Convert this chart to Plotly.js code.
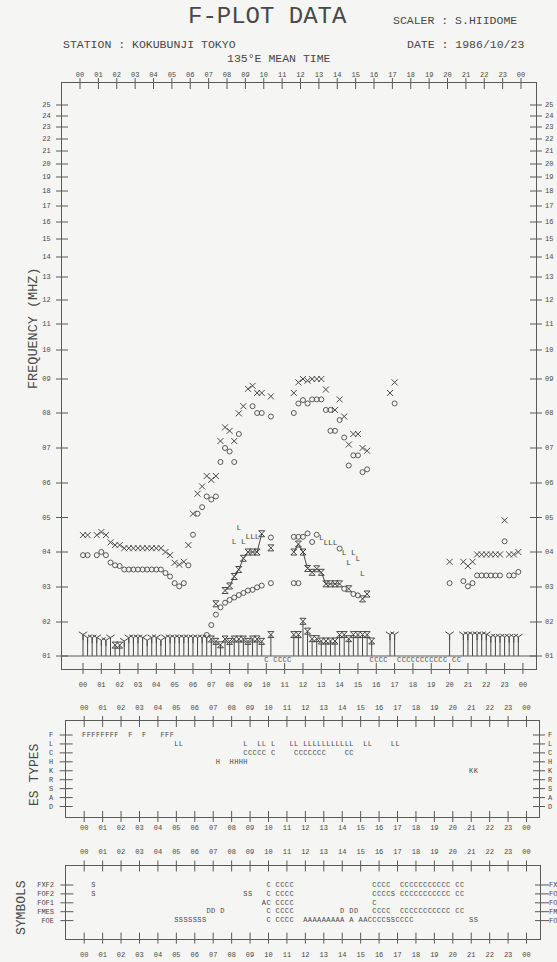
<!DOCTYPE html>
<html><head><meta charset="utf-8">
<script src="https://cdn.plot.ly/plotly-3.0.1.min.js"></script>
<style>html,body{margin:0;padding:0;background:#f5f5f3}</style>
</head><body><div id="chart" style="width:557px;height:962px"></div>
<script>
// ================= DATA =================
const hourLabels = ['00','01','02','03','04','05','06','07','08','09','10','11','12','13','14','15','16','17','18','19','20','21','22','23','00'];
const freqTicks = [1,2,3,4,5,6,7,8,9,10,11,12,13,14,15,16,17,18,19,20,21,22,23,24,25];
const freqTickLabels = ['01','02','03','04','05','06','07','08','09','10','11','12','13','14','15','16','17','18','19','20','21','22','23','24','25'];

// fxF2 (crosses)
const fxF2Time = [0,0.25,0.75,1,1.25,1.5,1.75,2,2.25,2.5,2.75,3,3.25,3.5,3.75,4,4.25,4.5,4.75,5,5.25,5.5,5.75,6,6.25,6.5,6.75,7,7.25,7.5,7.75,8,8.25,8.5,8.75,9,9.25,9.5,9.75,10.25,11.5,11.75,12,12.25,12.5,12.75,13,13.25,13.75,14,14.25,14.5,14.75,15,15.25,15.5,16.75,17,20,20.75,21,21.25,21.5,21.75,22,22.25,22.5,22.75,23,23.25,23.5,23.75];
const fxF2Freq = [4.49,4.49,4.49,4.58,4.49,4.28,4.2,4.2,4.11,4.11,4.11,4.11,4.11,4.11,4.11,4.11,4.11,4.0,3.91,3.69,3.64,3.72,4.2,5.11,5.69,5.9,6.2,6.09,6.2,7.2,7.59,7.49,7.2,7.99,8.2,8.71,8.8,8.59,8.59,8.49,8.59,8.9,9.0,8.95,9.0,9.0,9.0,8.69,8.09,8.4,7.9,7.1,7.4,7.4,7.0,6.92,8.59,8.9,3.72,3.72,3.6,3.72,3.93,3.93,3.93,3.93,3.93,3.93,4.92,3.93,3.93,4.0];

// foF2 (circles)
const foF2Time = [0,0.25,0.75,1,1.25,1.5,1.75,2,2.25,2.5,2.75,3,3.25,3.5,3.75,4,4.25,4.5,4.75,5,5.25,5.5,5.75,6,6.25,6.5,6.75,7,7.25,7.5,7.75,8,8.25,8.5,9.25,9.5,9.75,10.25,11.5,11.75,12,12.25,12.5,12.75,13,13.25,13.5,13.5,13.75,14,14.25,14.5,14.75,15,15.25,15.5,17,20,20.75,21,21.25,21.5,21.75,22,22.25,22.5,22.75,23,23.25,23.5,23.75];
const foF2Freq = [3.91,3.91,3.91,4.0,3.91,3.7,3.62,3.6,3.5,3.5,3.5,3.5,3.5,3.5,3.5,3.5,3.5,3.4,3.3,3.11,3.02,3.11,3.62,4.5,5.11,5.3,5.61,5.52,5.61,6.6,7.0,6.9,6.6,7.4,8.2,8.0,8.0,7.9,8.0,8.28,8.38,8.28,8.4,8.4,8.4,8.09,8.09,7.49,7.49,7.8,7.3,6.5,6.79,6.79,6.31,6.39,8.28,3.11,3.17,3.02,3.11,3.33,3.33,3.33,3.33,3.33,3.33,4.31,3.33,3.33,3.43];

// middle circles (~4.4 MHz)
const foF1Time = [10.25,11.5,11.75,12,12.25,12.5,12.75,14];
const foF1Freq = [4.42,4.44,4.44,4.44,4.54,4.29,4.5,4.1];

// lower circles
const foETime = [6.75,7,7.25,7.5,7.75,8,8.25,8.5,8.75,9,9.25,9.5,9.75,10.25,11.5,11.75,14.25,14.75,15];
const foEFreq = [1.62,1.91,2.21,2.42,2.55,2.63,2.7,2.77,2.83,2.9,2.92,2.99,3.04,3.11,3.11,3.11,2.95,2.8,2.76];

// hourglass connected line (null = break)
const lineTime = [7.25,7.5,7.75,8,8.25,8.5,8.75,9,9.25,9.5,9.75,10,10.25,10.5,11.5,11.75,12,12.25,12.5,12.75,13,13.25,13.5,13.75,14,14.25,14.5,14.75,15.25,15.5];
const lineFreq = [2.52,null,2.9,3.03,3.3,3.5,3.82,4.0,4.0,4.0,4.53,null,4.12,null,4.0,4.23,4.0,3.53,3.42,3.52,3.42,3.09,3.09,3.09,3.09,null,2.95,null,2.66,2.8];

// "L" marks
const lTime = [8.25,8.5,8.75,9,9.25,9.5,13,13.25,13.5,13.75,14.25,14.5,14.75,15,15.25];
const lFreq = [4.29,4.71,4.29,4.44,4.44,4.44,4.4,4.27,4.27,4.27,3.96,3.69,3.96,3.79,3.38];

// stems with Y tops
const yStemTime = [0,0.25,0.5,0.75,1,1.25,1.5,2.25,2.5,2.75,3,3.25,3.5,3.75,4,4.25,4.5,4.75,5,5.25,5.5,5.75,6,6.25,6.5,6.75,16.75,17,20,20.75,21,21.25,21.5,21.75,22,22.25,22.5,22.75,23,23.25,23.5,23.75];
const yStemFreq = [1.63,1.54,1.54,1.54,1.46,1.46,1.54,1.44,1.54,1.54,1.54,1.54,1.46,1.54,1.54,1.46,1.54,1.54,1.54,1.54,1.54,1.54,1.54,1.54,1.54,1.54,1.63,1.63,1.63,1.63,1.63,1.63,1.63,1.63,1.63,1.56,1.56,1.56,1.56,1.56,1.56,1.56];
// stems with hourglass tops
const hStemTime = [1.75,2,7,7.25,7.5,7.75,8,8.25,8.5,8.75,9,9.25,9.5,9.75,10.25,11.5,11.75,12,12.25,12.5,12.75,13,13.25,13.5,13.75,14,14.25,14.5,14.75,15,15.25,15.5,15.75];
const hStemFreq = [1.32,1.32,1.5,1.43,1.33,1.5,1.43,1.5,1.5,1.5,1.43,1.5,1.5,1.43,1.63,1.63,1.63,2.02,1.73,1.51,1.51,1.44,1.44,1.44,1.44,1.63,1.63,1.51,1.63,1.63,1.63,1.63,1.44];

// "C" letters under the 1 MHz line
const cBaseTime = [10,10.5,10.75,11,11.25,15.75,16,16.25,16.5,17.25,17.5,17.75,18,18.25,18.5,18.75,19,19.25,19.5,19.75,20.25,20.5];

// ES types panel: [start time, consecutive letters at 15-min steps]
const esRows = ['F','L','C','H','K','R','S','A','D'];
const esF = [[0,'FFFFFFFF'],[2.5,'F'],[3.25,'F'],[4.25,'FFF']];
const esL = [[5,'LL'],[8.75,'L'],[9.5,'LL'],[10.25,'L'],[11.25,'LL'],[12,'LLLLLLLLLLL'],[15.25,'LL'],[16.75,'LL']];
const esC = [[8.75,'CCCCC'],[10.25,'C'],[11.5,'CCCCCCC'],[14.25,'CC']];
const esH = [[7.25,'H'],[8,'HHHH']];
const esK = [[21,'KK']];

// Symbols panel
const symRows = ['FXF2','FOF2','FOF1','FMES','FOE'];
const symFxF2 = [[0.5,'S'],[10,'C'],[10.5,'CCCC'],[15.75,'CCCC'],[17.25,'CCCCCCCCCCC'],[20.25,'CC']];
const symFoF2 = [[0.5,'S'],[8.75,'SS'],[10,'C'],[10.5,'CCCC'],[15.75,'CCCCS'],[17.25,'CCCCCCCCCCC'],[20.25,'CC']];
const symFoF1 = [[9.75,'AC'],[10.5,'CCCC'],[15.75,'C']];
const symFmEs = [[6.75,'DD'],[7.5,'D'],[10,'C'],[10.5,'CCCC'],[14,'D'],[14.5,'DD'],[15.75,'CCCC'],[17.25,'CCCCCCCCCCC'],[20.25,'CC']];
const symFoE  = [[5,'SSSSSSS'],[10,'C'],[10.5,'CCCC'],[12,'AAAAAAAAA'],[14.5,'A'],[15,'AACCCCSSCCCC'],[21,'SS']];

// ================= SCALE / LAYOUT HELPERS =================
const W = 557, H = 962;
const px = v => v / W;
const py = v => 1 - v / H;
// frequency axis is non-linear on the original form: tick positions (page px)
const FREQ_TICK_PIX = [656,622,587,552,517.5,483,448,413,379,350,324,300,277,257,239,222,206,191,177,164,151,139,127,116,105];
function fs(f) {
  if (f === null || f === undefined) return null;
  let i = Math.floor(f) - 1;
  if (i < 0) i = 0; if (i > 23) i = 23;
  const p = FREQ_TICK_PIX[i] + (FREQ_TICK_PIX[i+1] - FREQ_TICK_PIX[i]) * (f - (i + 1));
  return H - p;
}
const INK = '#484848', LINE = '#5a5a5a';
const FONT = 'Liberation Mono, DejaVu Sans Mono, monospace';

function expand(segs) {
  const xs = [], txt = [];
  segs.forEach(([t0, s]) => { for (let k = 0; k < s.length; k++) { xs.push(t0 + 0.25 * k); txt.push(s[k]); } });
  return {xs, txt};
}

const traces = [];
function stemTrace(times, freqs, symbol, size) {
  return {
    x: times, y: freqs.map(fs), xaxis: 'x', yaxis: 'y', mode: 'markers', type: 'scatter',
    marker: {symbol, size, color: INK, line: {color: INK, width: 1}},
    error_y: {type: 'data', symmetric: false, array: freqs.map(() => 0), arrayminus: freqs.map(f => fs(f) - fs(1)), width: 0, thickness: 1, color: INK},
    hoverinfo: 'skip', showlegend: false, cliponaxis: false
  };
}
traces.push(stemTrace(yStemTime, yStemFreq, 'y-down-open', 7));
traces.push(stemTrace(hStemTime, hStemFreq, 'hourglass-open', 6));

traces.push({x: fxF2Time, y: fxF2Freq.map(fs), xaxis: 'x', yaxis: 'y', mode: 'markers', type: 'scatter',
  marker: {symbol: 'x-thin-open', size: 6, color: INK, line: {color: INK, width: 1}}, showlegend: false, hoverinfo: 'skip'});
[[foF2Time, foF2Freq], [foF1Time, foF1Freq], [foETime, foEFreq]].forEach(([t, f]) => traces.push({
  x: t, y: f.map(fs), xaxis: 'x', yaxis: 'y', mode: 'markers', type: 'scatter',
  marker: {symbol: 'circle-open', size: 5, color: INK, line: {color: INK, width: 0.9}}, showlegend: false, hoverinfo: 'skip'}));
traces.push({x: lineTime, y: lineFreq.map(fs), xaxis: 'x', yaxis: 'y', mode: 'lines+markers', type: 'scatter', connectgaps: false,
  line: {color: INK, width: 1}, marker: {symbol: 'hourglass-open', size: 6, color: INK, line: {color: INK, width: 1}}, showlegend: false, hoverinfo: 'skip'});
traces.push({x: lTime, y: lFreq.map(fs), xaxis: 'x', yaxis: 'y', mode: 'text', type: 'scatter', text: lTime.map(() => 'L'),
  textfont: {family: FONT, size: 8, color: INK}, textposition: 'middle center', showlegend: false, hoverinfo: 'skip'});
traces.push({x: cBaseTime, y: cBaseTime.map(() => fs(0.88)), xaxis: 'x', yaxis: 'y', mode: 'text', type: 'scatter', text: cBaseTime.map(() => 'C'),
  textfont: {family: FONT, size: 7, color: INK}, textposition: 'middle center', showlegend: false, hoverinfo: 'skip', cliponaxis: false});

[esF, esL, esC, esH, esK].forEach((segs, row) => {
  const e = expand(segs);
  traces.push({x: e.xs, y: e.xs.map(() => row), text: e.txt, xaxis: 'x3', yaxis: 'y3', mode: 'text', type: 'scatter',
    textfont: {family: FONT, size: 7, color: INK}, showlegend: false, hoverinfo: 'skip'});
});
[symFxF2, symFoF2, symFoF1, symFmEs, symFoE].forEach((segs, row) => {
  const e = expand(segs);
  traces.push({x: e.xs, y: e.xs.map(() => row), text: e.txt, xaxis: 'x5', yaxis: 'y5', mode: 'text', type: 'scatter',
    textfont: {family: FONT, size: 7, color: INK}, showlegend: false, hoverinfo: 'skip'});
});
// empty traces so that the mirrored label axes are instantiated
[['x2', 'y2'], ['x4', 'y4'], ['x6', 'y6']].forEach(([xa, ya]) => traces.push({x: [null], y: [null], xaxis: xa, yaxis: ya, mode: 'markers', type: 'scatter',
  marker: {opacity: 0}, showlegend: false, hoverinfo: 'skip'}));

// ================= AXES =================
const hours = hourLabels.map((_, i) => i);
const tickFont = {family: FONT, size: 7, color: INK};
function hAxis(dom, range, extra) {
  return Object.assign({domain: dom, range, tickvals: hours, ticktext: hourLabels, ticks: '', showgrid: false, zeroline: false,
    tickfont: tickFont, fixedrange: true, autorange: false}, extra);
}
function rAxis(range, vals, text, extra) {
  return Object.assign({range, tickvals: vals, ticktext: text, ticks: '', showgrid: false, zeroline: false,
    tickfont: tickFont, fixedrange: true, autorange: false}, extra);
}
const M = {l: 62, r: 536, t: 83, b: 669, h0: 83, hs: 18.33, top_h0: 80, top_hs: 18.375};
const E = {l: 65.7, r: 539, t: 721, b: 817, h0: 84.2, hs: 18.43, row0: 735, rs: 8.94};
const S = {l: 66.4, r: 540, t: 865.5, b: 938.6, h0: 84.2, hs: 18.43, row0: 885, rs: 8.9};
const frame = {showline: true, mirror: true, linecolor: LINE, linewidth: 1};
const mainYRange = [H - M.b, H - M.t];
const esYRange = [(E.b - E.row0) / E.rs, (E.t - E.row0) / E.rs];
const symYRange = [(S.b - S.row0) / S.rs, (S.t - S.row0) / S.rs];
const esX = [(E.l - E.h0) / E.hs, (E.r - E.h0) / E.hs];
const symX = [(S.l - S.h0) / S.hs, (S.r - S.h0) / S.hs];

const layout = {
  width: W, height: H, margin: {l: 0, r: 0, t: 0, b: 0}, paper_bgcolor: '#f5f5f3', plot_bgcolor: 'rgba(0,0,0,0)', showlegend: false,
  xaxis: hAxis([px(M.l), px(M.r)], [(M.l - M.h0) / M.hs, (M.r - M.h0) / M.hs], Object.assign({anchor: 'y', ticklabelstandoff: 9}, frame)),
  xaxis2: hAxis([px(M.l), px(M.r)], [(M.l - M.top_h0) / M.top_hs, (M.r - M.top_h0) / M.top_hs], {overlaying: 'x', side: 'top', anchor: 'y', ticklabelstandoff: 4}),
  yaxis: rAxis(mainYRange, freqTicks.map(fs), freqTickLabels, Object.assign({domain: [py(M.b), py(M.t)], anchor: 'x', ticklabelstandoff: 9}, frame)),
  yaxis2: rAxis(mainYRange, freqTicks.map(fs), freqTickLabels, {overlaying: 'y', side: 'right', anchor: 'x', ticklabelstandoff: 8}),

  xaxis3: hAxis([px(E.l), px(E.r)], esX, Object.assign({anchor: 'y3', ticklabelstandoff: 4}, frame)),
  xaxis4: hAxis([px(E.l), px(E.r)], esX, {overlaying: 'x3', side: 'top', anchor: 'y3', ticklabelstandoff: 9}),
  yaxis3: rAxis(esYRange, esRows.map((_, i) => i), esRows, Object.assign({domain: [py(E.b), py(E.t)], anchor: 'x3', ticklabelstandoff: 10}, frame)),
  yaxis4: rAxis(esYRange, esRows.map((_, i) => i), esRows, {overlaying: 'y3', side: 'right', anchor: 'x3', ticklabelstandoff: 8}),

  xaxis5: hAxis([px(S.l), px(S.r)], symX, Object.assign({anchor: 'y5', ticklabelstandoff: 9}, frame)),
  xaxis6: hAxis([px(S.l), px(S.r)], symX, {overlaying: 'x5', side: 'top', anchor: 'y5', ticklabelstandoff: 9}),
  yaxis5: rAxis(symYRange, symRows.map((_, i) => i), symRows, Object.assign({domain: [py(S.b), py(S.t)], anchor: 'x5', ticklabelstandoff: 10}, frame)),
  yaxis6: rAxis(symYRange, symRows.map((_, i) => i), symRows, {overlaying: 'y5', side: 'right', anchor: 'x5', ticklabelstandoff: 8}),
  shapes: [],
  annotations: []
};

const ln = {color: LINE, width: 1};
function vt(xref, y0, y1) { hours.forEach(h => layout.shapes.push({type: 'line', xref, yref: 'paper', x0: h, x1: h, y0: py(y0), y1: py(y1), line: ln})); }
function ht(yref, vals, x0, x1) { vals.forEach(v => layout.shapes.push({type: 'line', xref: 'paper', yref, x0: px(x0), x1: px(x1), y0: v, y1: v, line: ln})); }
vt('x2', M.t - 5, M.t + 6);
vt('x', M.b - 6, M.b + 5);
ht('y', freqTicks.map(fs), M.l - 6, M.l + 6);
ht('y', freqTicks.map(fs), M.r - 6, M.r + 6);
layout.shapes.push({type: 'line', xref: 'paper', yref: 'y', x0: px(M.l), x1: px(M.r), y0: fs(1), y1: fs(1), line: ln});
vt('x3', E.t - 5, E.t + 6);
vt('x3', E.b - 6, E.b + 5);
ht('y3', esRows.map((_, i) => i), E.l - 6, E.l + 7);
ht('y3', esRows.map((_, i) => i), E.r - 6, E.r + 6);
vt('x5', S.t - 5, S.t + 6);
vt('x5', S.b - 6, S.b + 5);
ht('y5', symRows.map((_, i) => i), S.l - 6, S.l + 7);
ht('y5', symRows.map((_, i) => i), S.r - 5, S.r + 9);

function ann(text, x, y, size, extra) {
  layout.annotations.push(Object.assign({text, xref: 'paper', yref: 'paper', x: px(x), y: py(y), showarrow: false, xanchor: 'center', yanchor: 'middle',
    font: {family: FONT, size, color: INK}}, extra));
}
ann('F-PLOT DATA', 267, 16, 24);
ann('SCALER : S.HIIDOME', 391, 20, 11.5, {xanchor: 'left'});
ann('STATION : KOKUBUNJI TOKYO', 61, 44, 11.5, {xanchor: 'left'});
ann('DATE : 1986/10/23', 405, 44, 11.5, {xanchor: 'left'});
ann('135°E MEAN TIME', 279, 58.5, 11.5);
ann('FREQUENCY (MHZ)', 33, 328, 13.5, {textangle: -90});
ann('ES TYPES', 34, 775, 13, {textangle: -90});
ann('SYMBOLS', 21, 908, 13, {textangle: -90});

Plotly.newPlot('chart', traces, layout, {staticPlot: true, displayModeBar: false});
</script></body></html>
